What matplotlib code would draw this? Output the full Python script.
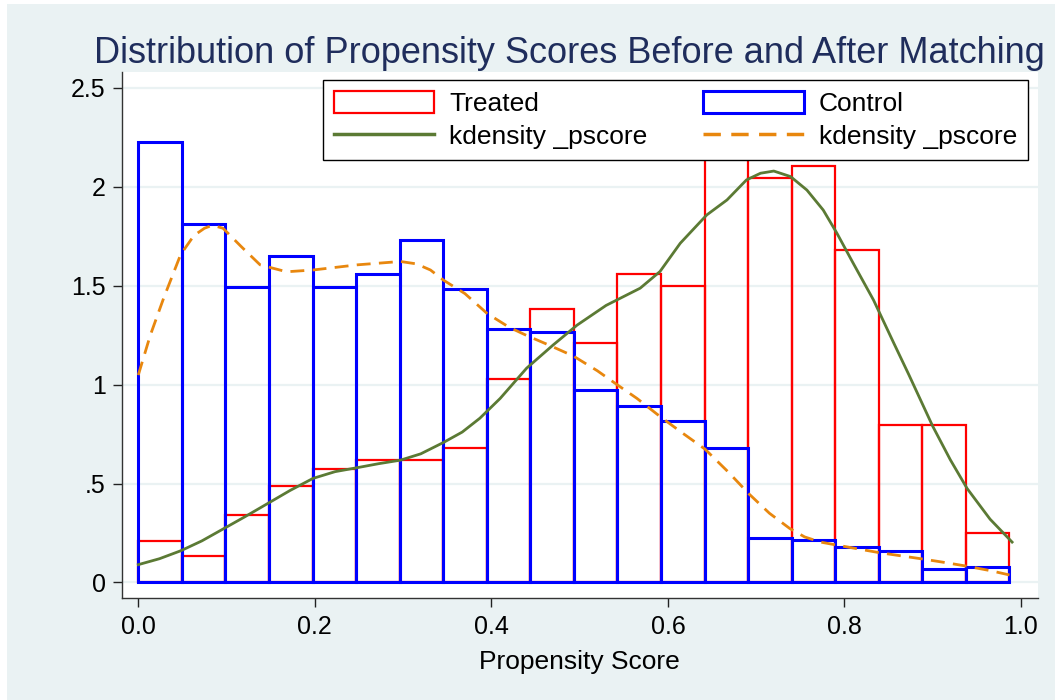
import numpy as np
import matplotlib
matplotlib.use("Agg")
import matplotlib.pyplot as plt
from matplotlib.patches import Rectangle
from matplotlib.lines import Line2D

plt.rcParams['font.family'] = ['Liberation Sans', 'DejaVu Sans']

# Histogram bins (20 equal-width bins over the propensity score range)
bin_lo = 0.0
bin_hi = 0.987
n_bins = 20

treated_density = [0.207, 0.134, 0.339, 0.486, 0.573, 0.618, 0.618, 0.677, 1.03, 1.384,
                   1.208, 1.56, 1.50, 2.30, 2.044, 2.103, 1.678, 0.795, 0.795, 0.249]
control_density = [2.226, 1.810, 1.492, 1.650, 1.492, 1.560, 1.730, 1.483, 1.281, 1.265,
                   0.973, 0.893, 0.815, 0.677, 0.226, 0.216, 0.179, 0.158, 0.068, 0.080]

# Kernel density estimates
kd_treated_x = [0.0, 0.024, 0.048, 0.072, 0.096, 0.12, 0.147, 0.172, 0.198, 0.223, 0.248,
                0.272, 0.297, 0.32, 0.346, 0.367, 0.387, 0.41, 0.44, 0.47, 0.497, 0.53,
                0.5686, 0.591, 0.614, 0.644, 0.667, 0.689, 0.705, 0.72, 0.739, 0.7575,
                0.776, 0.7915, 0.81, 0.833, 0.856, 0.873, 0.90, 0.92, 0.939, 0.965, 0.99]
kd_treated_y = [0.09, 0.12, 0.16, 0.21, 0.27, 0.33, 0.40, 0.465, 0.526, 0.56, 0.58,
                0.60, 0.618, 0.65, 0.708, 0.76, 0.83, 0.93, 1.083, 1.20, 1.30, 1.40,
                1.487, 1.571, 1.714, 1.857, 1.933, 2.034, 2.068, 2.079, 2.051, 1.983,
                1.882, 1.765, 1.613, 1.427, 1.209, 1.05, 0.79, 0.62, 0.475, 0.32, 0.204]

kd_control_x = [0.0, 0.0135, 0.029, 0.048, 0.063, 0.075, 0.084, 0.096, 0.116, 0.138, 0.168,
                0.198, 0.248, 0.297, 0.315, 0.331, 0.346, 0.37, 0.395, 0.42, 0.44, 0.465,
                0.493, 0.52, 0.541, 0.565, 0.591, 0.615, 0.642, 0.668, 0.692, 0.715,
                0.738, 0.755, 0.773, 0.79, 0.815, 0.839, 0.865, 0.891, 0.915, 0.939,
                0.965, 0.987]
kd_control_y = [1.048, 1.248, 1.44, 1.657, 1.753, 1.79, 1.805, 1.79, 1.70, 1.605, 1.57,
                1.579, 1.605, 1.622, 1.61, 1.579, 1.527, 1.46, 1.36, 1.29, 1.248, 1.20,
                1.144, 1.07, 1.004, 0.93, 0.839, 0.76, 0.674, 0.56, 0.447, 0.35,
                0.273, 0.23, 0.204, 0.19, 0.17, 0.151, 0.134, 0.117, 0.10, 0.082,
                0.06, 0.038]

x_ticks = [0.0, 0.2, 0.4, 0.6, 0.8, 1.0]
x_tick_labels = ["0.0", "0.2", "0.4", "0.6", "0.8", "1.0"]
y_ticks = [0, 0.5, 1, 1.5, 2, 2.5]
y_tick_labels = ["0", ".5", "1", "1.5", "2", "2.5"]

BG = "#EAF2F3"
TITLE_C = "#1F2D5C"
GREEN = "#5B7A34"
ORANGE = "#E8870E"

W, H = 1055, 700
fig = plt.figure(figsize=(W / 100, H / 100), dpi=100, facecolor="white")
# outer graph region, drawn behind everything
fig.patches.append(Rectangle((7 / W, 0), 1 - 7 / W, 1 - 4 / H, transform=fig.transFigure,
                             facecolor=BG, edgecolor="none", zorder=-10))

ax = fig.add_axes([121.7 / W, 1 - 597.7 / H, (1037.7 - 121.7) / W, (597.7 - 72.3) / H])
ax.set_zorder(1)
ax.set_facecolor("white")
ax.set_xlim(-0.0188, 1.019)
ax.set_ylim(-0.077, 2.578)

edges = np.linspace(bin_lo, bin_hi, n_bins + 1)
width = edges[1] - edges[0]

ax.bar(edges[:-1], treated_density, width=width, align="edge", fill=False,
       edgecolor="#FF0000", linewidth=1.6, zorder=2)
ax.bar(edges[:-1], control_density, width=width, align="edge", fill=False,
       edgecolor="#0000FF", linewidth=2.2, zorder=3)

ax.plot(kd_treated_x, kd_treated_y, color=GREEN, linewidth=2.0, zorder=4,
        solid_joinstyle="round")
ax.plot(kd_control_x, kd_control_y, color=ORANGE, linewidth=2.0, zorder=4,
        dashes=(5, 3))

for y in y_ticks:
    ax.axhline(y, color=BG, linewidth=1.6, zorder=1)

ax.set_xticks(x_ticks)
ax.set_xticklabels(x_tick_labels)
ax.set_yticks(y_ticks)
ax.set_yticklabels(y_tick_labels)
ax.tick_params(axis="both", direction="out", length=6.5, width=1.0, color="#222222",
               labelsize=18, labelcolor="black")
ax.tick_params(axis="y", pad=5)
ax.tick_params(axis="x", pad=6)

for side in ("top", "right"):
    ax.spines[side].set_visible(False)
for side in ("left", "bottom"):
    ax.spines[side].set_color("#333333")
    ax.spines[side].set_linewidth(1.0)

ax.set_xlabel("Propensity Score", fontsize=19, labelpad=8, color="black")

fig.text(94 / W, 1 - 63 / H, "Distribution of Propensity Scores Before and After Matching",
         fontsize=26, color=TITLE_C, ha="left", va="baseline")

handles = [
    Rectangle((0, 0), 1, 1, facecolor="white", edgecolor="#FF0000", linewidth=1.6),
    Line2D([], [], color=GREEN, linewidth=2.5),
    Rectangle((0, 0), 1, 1, facecolor="white", edgecolor="#0000FF", linewidth=2.2),
    Line2D([], [], color=ORANGE, linewidth=2.5, dashes=(5, 3)),
]
labels = ["Treated", "kdensity _pscore", "Control", "kdensity _pscore"]
leg = ax.legend(handles, labels, ncol=2, loc="upper right",
                bbox_to_anchor=(1028 / W, 1 - 80 / H), bbox_transform=fig.transFigure,
                fontsize=19, frameon=True, fancybox=False,
                framealpha=1, edgecolor="black", facecolor="white",
                handlelength=3.8, handleheight=0.9, handletextpad=0.57,
                columnspacing=2.11, borderpad=0.42, labelspacing=0.3,
                borderaxespad=0)
leg.get_frame().set_linewidth(1.0)
leg.set_zorder(10)

fig.savefig("out.png", dpi=100, facecolor="white")
